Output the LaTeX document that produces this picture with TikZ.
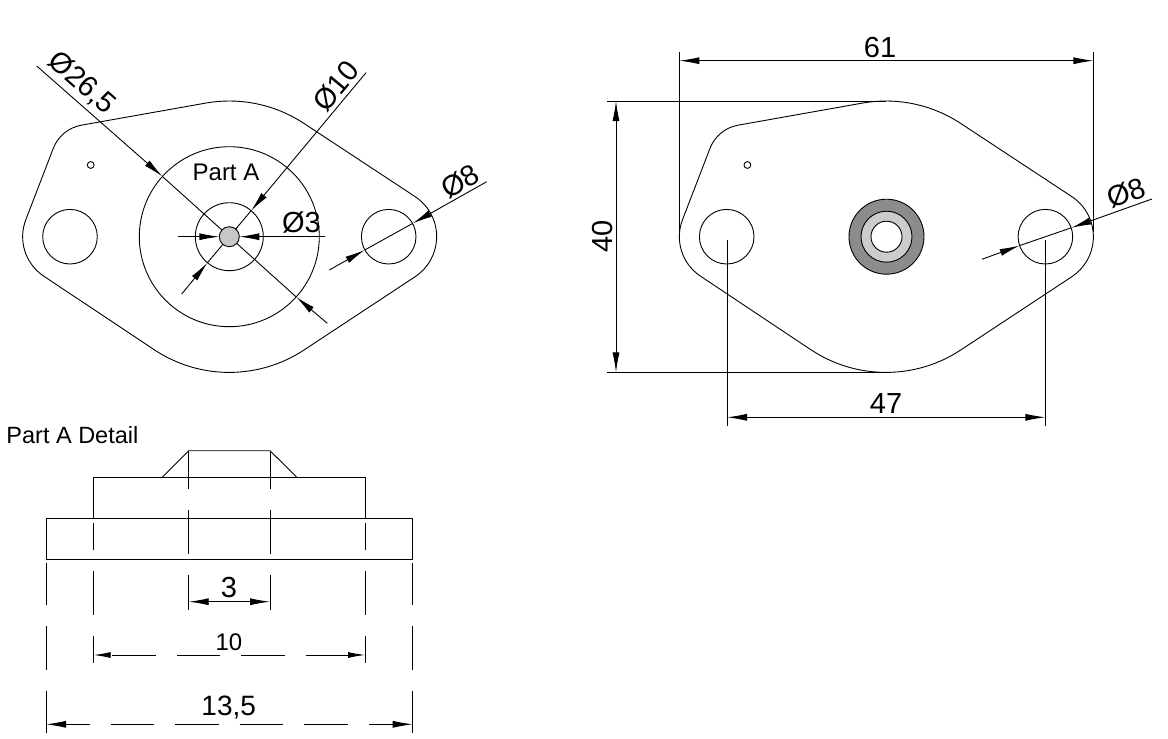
\documentclass[tikz,border=0pt]{standalone}
\usepackage{fontspec}
\setmainfont{Liberation Sans}
\usepackage{tikz}
\usetikzlibrary{arrows.meta}
\usetikzlibrary{shapes}
\tikzset{
  dimline/.style={line width=0.9pt},
  dimtip/.style={dimline,-{Latex[length=20pt,width=7pt]}},
  dimboth/.style={dimline,{Latex[length=20pt,width=7pt]}-{Latex[length=20pt,width=7pt]}},
  bore/.style={draw,circle,line width=0.9pt,inner sep=0pt,outer sep=0pt},
  lbl/.style={inner sep=0pt,font=\fontsize{29}{29}\selectfont},
  smalllbl/.style={inner sep=0pt,font=\fontsize{24}{24}\selectfont},
  centerline/.style={dimline,dash pattern=on 43.5pt off 21pt}
}
\begin{document}
\begin{tikzpicture}[x=1pt,y=-1pt,line width=0.9pt]
  \useasboundingbox (0,0) rectangle (1168,739);
  \foreach \v/\dx in {a/0,b/656.7}{%
    \begin{scope}[shift={(\dx,0)}]
      \draw (206.2,103) arc[start angle=-99.8,end angle=-56.6,radius=135.7]
        -- (415.1,196.6) arc[start angle=-56.6,end angle=56.6,radius=48]
        -- (304,350) arc[start angle=56.6,end angle=123.7,radius=135.7]
        -- (43.7,276.1) arc[start angle=123.7,end angle=201.1,radius=47.3]
        -- (53.3,148.3) arc[start angle=201.1,end angle=260.2,radius=37] -- cycle;
      \node[bore,minimum size=54.6pt] (holeL-\v) at (70,236.7) {};
      \node[bore,minimum size=54.6pt] (holeR-\v) at (388.7,236.7) {};
      \node[bore,minimum size=6.8pt] (mark-\v) at (90.7,165) {};
    \end{scope}
  }
  % left view
  \node[bore,minimum size=180pt] (bossL) at (229.3,236.7) {};
  \node[bore,minimum size=68pt] (bossM) at (229.3,236.7) {};
  \node[bore,minimum size=20pt,fill=black!22] (pinL) at (229.3,236.7) {};
  \coordinate (d26-a) at (36.7,66);
  \coordinate (d26-b) at (327.3,323.3);
  \coordinate (d10-a) at (366,72.7);
  \coordinate (d10-b) at (181.7,294);
  \coordinate (d3-a) at (178.3,236.7);
  \coordinate (d3-b) at (325,236.7);
  \coordinate (d8L-a) at (486.7,181.7);
  \coordinate (d8L-b) at (329.3,270);
  \draw[dimtip] (d26-a) -- (bossL.138.5);
  \draw[dimtip] (d26-b) -- (bossL.318.5);
  \draw (bossL.138.5) -- (pinL.138.5);
  \draw (bossL.318.5) -- (pinL.318.5);
  \draw[dimtip] (d10-a) -- (bossM.50.2);
  \draw[dimtip] (d10-b) -- (bossM.230.2);
  \draw (bossM.50.2) -- (pinL.50.2);
  \draw (bossM.230.2) -- (pinL.230.2);
  \draw[dimtip] (d3-a) -- (pinL.west);
  \draw[dimtip] (d3-b) -- (pinL.east);
  \draw[dimtip] (d8L-a) -- (holeR-a.29.3);
  \draw[dimtip] (d8L-b) -- (holeR-a.209.3);
  \draw (holeR-a.29.3) -- (holeR-a.209.3);
  \node[lbl,rotate=-41.5] (t26) at (82,83) {Ø26,5};
  \node[lbl,rotate=50.2] (t10) at (336,86) {Ø10};
  \node[lbl] (t3) at (301.5,222) {Ø3};
  \node[lbl,rotate=29.3] (t8L) at (460,181.7) {Ø8};
  \node[smalllbl] (tpart) at (226,172.5) {Part A};
  % right view
  \node[bore,minimum size=75pt,fill=black!45] (ringO) at (886.5,236.7) {};
  \node[bore,minimum size=51pt,fill=black!20] (ringM) at (886.5,236.7) {};
  \node[bore,minimum size=31pt,fill=white] (ringI) at (886.5,236.7) {};
  \coordinate (e61-a) at (679.4,52);
  \coordinate (e61-b) at (679.4,232);
  \coordinate (e61-c) at (1093.4,52);
  \coordinate (e61-d) at (1093.4,232);
  \coordinate (w61-a) at (679.4,60.7);
  \coordinate (w61-b) at (1093.4,60.7);
  \coordinate (e40-a) at (607,101);
  \coordinate (e40-b) at (886,101);
  \coordinate (e40-c) at (607,372.4);
  \coordinate (e40-d) at (886,372.4);
  \coordinate (h40-a) at (616,101);
  \coordinate (h40-b) at (616,372.4);
  \coordinate (e47-a) at (727,240);
  \coordinate (e47-b) at (727,426);
  \coordinate (e47-c) at (1045.4,240);
  \coordinate (e47-d) at (1045.4,426);
  \coordinate (w47-a) at (727,417.3);
  \coordinate (w47-b) at (1045.4,417.3);
  \coordinate (d8R-a) at (1152,199);
  \coordinate (d8R-b) at (981.9,259.3);
  \draw (e61-a) -- (e61-b);
  \draw (e61-c) -- (e61-d);
  \draw[dimboth] (w61-a) -- (w61-b);
  \draw (e40-a) -- (e40-b);
  \draw (e40-c) -- (e40-d);
  \draw[dimboth] (h40-a) -- (h40-b);
  \draw (e47-a) -- (e47-b);
  \draw (e47-c) -- (e47-d);
  \draw[dimboth] (w47-a) -- (w47-b);
  \draw[dimtip] (d8R-a) -- (holeR-b.19.5);
  \draw[dimtip] (d8R-b) -- (holeR-b.199.5);
  \draw (holeR-b.19.5) -- (holeR-b.199.5);
  \node[lbl] (t61) at (880,47.5) {61};
  \node[lbl,rotate=90] (t40) at (602.5,236.7) {40};
  \node[lbl] (t47) at (886,403.5) {47};
  \node[lbl,rotate=19.5] (t8R) at (1126,192.7) {Ø8};
  % detail
  \node[inner sep=0pt,font=\fontsize{23.5}{24}\selectfont,anchor=west] (tdetail) at (6,435) {Part A Detail};
  \draw (46,518.7) rectangle (412.7,559.3);
  \draw (93.7,518.7) -- (93.7,477.7) -- (365,477.7) -- (365,518.7);
  \draw (161.7,477.7) -- (188.7,450.7) -- (270,450.7) -- (297.3,477.7);
  \foreach \x in {188.7,270}{%
    \draw[centerline,dash phase=4.9pt] (\x,450.7) -- (\x,610);
  }
  \foreach \x in {93.7,365}{%
    \draw[centerline,dash phase=16.2pt] (\x,522.7) -- (\x,663.3);
  }
  \foreach \x in {46,412.7}{%
    \draw[centerline,dash phase=1.8pt] (\x,563.3) -- (\x,733.3);
  }
  \coordinate (w3-a) at (188.7,601.7);
  \coordinate (w3-b) at (270,601.7);
  \coordinate (w10-a) at (93.7,655);
  \coordinate (w10-b) at (365,655);
  \coordinate (w13-a) at (46,724.3);
  \coordinate (w13-b) at (412.7,724.3);
  \draw[dimboth] (w3-a) -- (w3-b);
  \draw[centerline,dash phase=62.5pt,{Latex[length=17pt,width=6pt]}-{Latex[length=17pt,width=6pt]}] (w10-a) -- (w10-b);
  \draw[centerline,dash phase=19.5pt,{Latex[length=20pt,width=7pt]}-{Latex[length=20pt,width=7pt]}] (w13-a) -- (w13-b);
  \node[lbl] (t3d) at (229,587.5) {3};
  \node[smalllbl] (t10d) at (229,642.7) {10};
  \node[inner sep=0pt,font=\fontsize{28}{28}\selectfont] (t13) at (228.7,707.5) {13,5};
\end{tikzpicture}
\end{document}
